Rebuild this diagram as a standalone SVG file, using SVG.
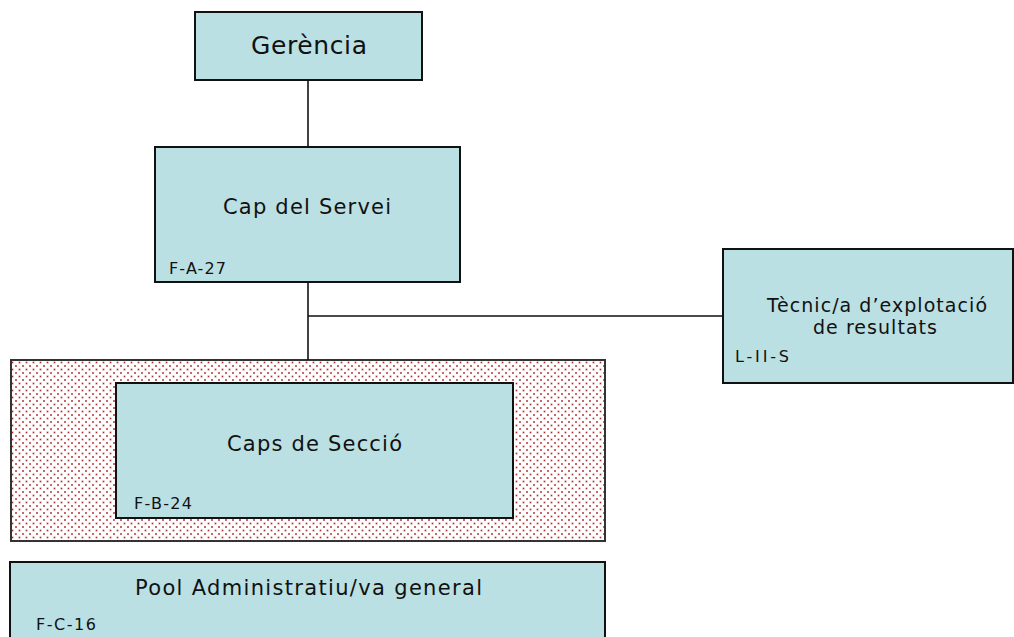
<svg xmlns="http://www.w3.org/2000/svg" width="1014" height="637" viewBox="0 0 1014 637">
  <defs>
    <!-- dotted red fill for the section band -->
    <pattern id="dots" width="7" height="7" patternUnits="userSpaceOnUse">
      <rect width="7" height="7" fill="#ffffff"/>
      <rect x="1" y="1" width="2" height="2" fill="#d08080"/>
      <rect x="1.5" y="1.5" width="1" height="1" fill="#a52a2a"/>
      <rect x="4.5" y="4.5" width="2" height="2" fill="#d08080"/>
      <rect x="5" y="5" width="1" height="1" fill="#a52a2a"/>
    </pattern>
    <style>
      .box { fill: #bae0e3; stroke: #111111; stroke-width: 2; }
      .band { fill: url(#dots); stroke: #333333; stroke-width: 2; }
      .conn { stroke: #111111; stroke-width: 1.6; fill: none; }
      .t { font-family: "DejaVu Sans", Verdana, sans-serif; fill: #111111; }
      .title { font-size: 21px; text-anchor: middle; }
      .code { font-size: 16px; }
    </style>
  </defs>

  <!-- section band behind the section heads -->
  <g id="band-seccions">
    <rect class="band" x="11" y="360" width="594" height="181"/>
  </g>

  <g id="connectors">
    <line class="conn" x1="308" y1="80" x2="308" y2="147"/>
    <line class="conn" x1="308" y1="282" x2="308" y2="360"/>
    <line class="conn" x1="308" y1="316" x2="723" y2="316"/>
  </g>

  <g id="gerencia">
    <rect class="box" x="195" y="12" width="227" height="68"/>
    <text class="t" x="309" y="54" font-size="25" text-anchor="middle" textLength="116" lengthAdjust="spacing">Gerència</text>
  </g>

  <g id="cap-servei">
    <rect class="box" x="155" y="147" width="305" height="135"/>
    <text class="t title" x="307" y="214" textLength="168" lengthAdjust="spacing">Cap del Servei</text>
    <text class="t code" x="169" y="274" textLength="57" lengthAdjust="spacing">F-A-27</text>
  </g>

  <g id="tecnic-explotacio">
    <rect class="box" x="723" y="249" width="290" height="134"/>
    <text class="t" x="877" y="312" font-size="19" text-anchor="middle" textLength="220" lengthAdjust="spacing">Tècnic/a d’explotació</text>
    <text class="t" x="875" y="334" font-size="19" text-anchor="middle" textLength="124" lengthAdjust="spacing">de resultats</text>
    <text class="t code" x="735" y="362" textLength="54" lengthAdjust="spacing">L-II-S</text>
  </g>

  <g id="caps-seccio">
    <rect class="box" x="116" y="383" width="397" height="135"/>
    <text class="t title" x="314.5" y="451" textLength="175" lengthAdjust="spacing">Caps de Secció</text>
    <text class="t code" x="134" y="509" textLength="58" lengthAdjust="spacing">F-B-24</text>
  </g>

  <g id="pool-administratiu">
    <rect class="box" x="10" y="562" width="595" height="90"/>
    <text class="t" x="308.5" y="595" font-size="21" text-anchor="middle" textLength="347" lengthAdjust="spacing">Pool Administratiu/va general</text>
    <text class="t code" x="36" y="630" textLength="60" lengthAdjust="spacing">F-C-16</text>
  </g>
</svg>
